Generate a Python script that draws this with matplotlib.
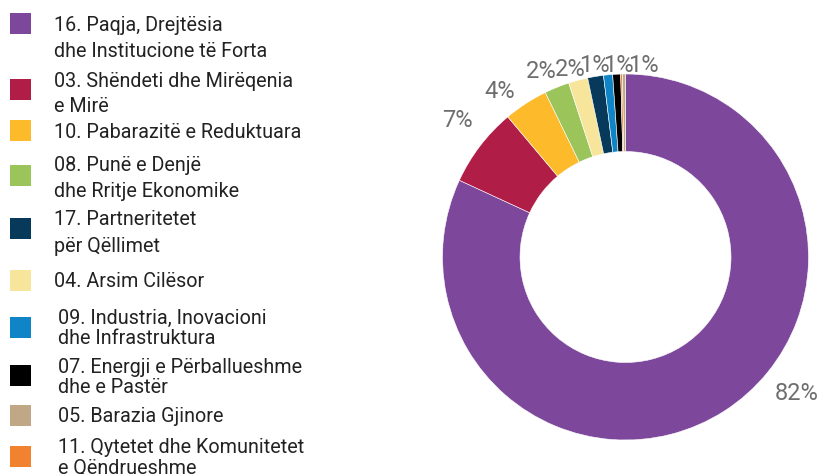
import matplotlib
matplotlib.use("Agg")
import matplotlib.pyplot as plt
import numpy as np
from matplotlib.patches import Rectangle

# ---- data ----
categories = [
    "16. Paqja, Drejtësia\ndhe Institucione të Forta",
    "03. Shëndeti dhe Mirëqenia\ne Mirë",
    "10. Pabarazitë e Reduktuara",
    "08. Punë e Denjë\ndhe Rritje Ekonomike",
    "17. Partneritetet\npër Qëllimet",
    "04. Arsim Cilësor",
    "09. Industria, Inovacioni\ndhe Infrastruktura",
    "07. Energji e Përballueshme\ndhe e Pastër",
    "05. Barazia Gjinore",
    "11. Qytetet dhe Komunitetet\ne Qëndrueshme",
]
colors = ["#7D479C", "#B01E48", "#FDBB2B", "#9BC45A", "#073A5A",
          "#F6E59A", "#0F85C8", "#000000", "#C0A887", "#F08230"]
values = [81.9, 7.0, 3.9, 2.2, 1.4, 1.7, 0.8, 0.7, 0.26, 0.16]

# order of slices around the ring (clockwise from top)
pie_order = [0, 1, 2, 3, 5, 4, 6, 7, 9, 8]

# ---- layout (pixels) ----
W, H = 818, 474
fig = plt.figure(figsize=(W / 100, H / 100), dpi=100)
cx, cy, R = 625.5, 257, 183
ax = fig.add_axes([(cx - R) / W, (H - cy - R) / H, 2 * R / W, 2 * R / H])

pv = [values[i] for i in pie_order]
pc = [colors[i] for i in pie_order]
wedges, _ = ax.pie(pv, colors=pc, startangle=90, counterclock=False, radius=1,
                   wedgeprops=dict(width=0.4235, edgecolor="white", linewidth=0.4))
ax.set_xlim(-1, 1)
ax.set_ylim(-1, 1)
ax.set_aspect("equal")
ax.axis("off")

# percentage labels
label_nudge = {0: 19.2, 1: -2.2, 2: 3.9, 3: 2.0, 4: 1.4, 5: -0.4, 6: -3.3, 7: -8.0}
label_r = {0: 1.193, 1: 1.191, 2: 1.142, 3: 1.124, 4: 1.077, 5: 1.068, 6: 1.055, 7: 1.059}
lab_fs = 17
tot = sum(pv)
for k, w in enumerate(wedges):
    pct = pv[k] / tot * 100
    if pct < 0.5:
        continue
    mid = (w.theta1 + w.theta2) / 2 + label_nudge.get(k, 0)
    r = label_r.get(k, 1.1)
    x, y = r * np.cos(np.radians(mid)), r * np.sin(np.radians(mid))
    ax.annotate(f"{pct:.0f}%", (x, y), xytext=(0, -0.711 * lab_fs / 2),
                textcoords="offset points", ha="center", va="baseline",
                fontsize=lab_fs, family="Roboto", fontweight="normal",
                color="#6E6E6E", annotation_clip=False)

# ---- legend (manual, pixel coordinates) ----
lax = fig.add_axes([0, 0, 1, 1])
lax.set_xlim(0, W)
lax.set_ylim(H, 0)
lax.axis("off")
square_top = [13, 79, 120, 165, 218, 270, 317, 365, 405, 446]
first_base = [30.7, 86.7, 138, 171.3, 225.3, 286.7, 324.3, 372.7, 422.3, 453.3]
line_gap = [26.4, 25, 25, 25.4, 26.4, 25, 19.2, 20, 20, 20]
text_x = [54, 54, 54, 54, 54, 54, 58, 58, 58, 58]
for i, cat in enumerate(categories):
    lax.add_patch(Rectangle((10, square_top[i]), 21, 21, color=colors[i], lw=0))
    for j, line in enumerate(cat.split("\n")):
        lax.text(text_x[i], first_base[i] + j * line_gap[i], line, ha="left",
                 va="baseline", fontsize=14.2, family="Roboto", color="#222222")

fig.savefig("out.png", dpi=100)
